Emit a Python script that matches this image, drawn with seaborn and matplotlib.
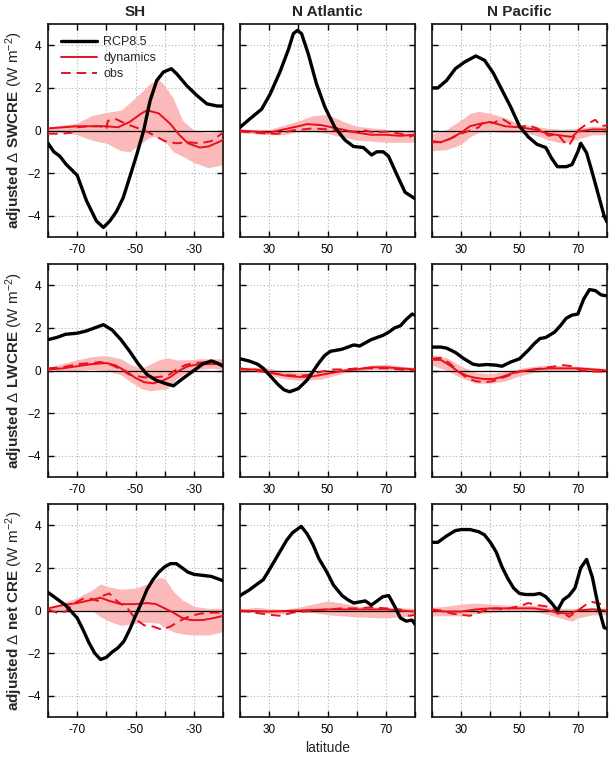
import numpy as np
import pandas as pd
import matplotlib
matplotlib.use("Agg")
import matplotlib.pyplot as plt
import seaborn as sns
from matplotlib.ticker import MultipleLocator, FuncFormatter

# ---------------- data ----------------
regions = ["SH", "N Atlantic", "N Pacific"]
quantities = ["SWCRE", "LWCRE", "net CRE"]
series_labels = ["RCP8.5", "dynamics", "obs"]
xlims = {"SH": (-80, -20), "N Atlantic": (20, 80), "N Pacific": (20, 80)}
xtick_labels = {"SH": [-70, -50, -30], "N Atlantic": [30, 50, 70], "N Pacific": [30, 50, 70]}
yticks = [-4, -2, 0, 2, 4]

# --- SWCRE ---
sh_sw_rcp = [(-80, -0.6), (-78, -1.0), (-76, -1.2), (-73.7, -1.6), (-70, -2.1), (-66.8, -3.3), (-63.4, -4.25),
             (-61, -4.55), (-58.8, -4.25), (-56.5, -3.8), (-54.2, -3.15), (-52, -2.2), (-49.5, -1.1), (-47.2, 0.0),
             (-45, 1.4), (-42.7, 2.35), (-40.4, 2.75), (-37.7, 2.9), (-35.8, 2.65), (-32.4, 2.1), (-29, 1.65),
             (-25.5, 1.25), (-22, 1.15), (-20, 1.15)]
sh_sw_dyn = [(-80, 0.1), (-70, 0.2), (-60, 0.2), (-56, 0.15), (-52, 0.4), (-48, 0.8), (-46, 0.95), (-42, 0.8),
             (-38, 0.3), (-35, -0.2), (-32, -0.6), (-28, -0.8), (-25, -0.75), (-20, -0.45)]
sh_sw_obs = [(-80, -0.15), (-75, -0.15), (-72, -0.1), (-70, 0.15), (-66, 0.2), (-62, 0.2), (-60, 0.05), (-59.5, 0.45),
             (-57, 0.55), (-53, 0.3), (-50, 0.15), (-47, 0.0), (-44, -0.2), (-40, -0.5), (-36, -0.6), (-32, -0.55),
             (-28, -0.6), (-24, -0.5), (-20, -0.1)]
sh_sw_band = [(-80, -0.05, 0.15), (-75, -0.1, 0.25), (-70, -0.2, 0.35), (-65, -0.45, 0.7), (-60, -0.6, 0.85),
              (-55, -0.95, 0.95), (-52, -1.0, 1.3), (-48, -0.6, 1.8), (-45, -0.3, 2.2), (-42, -0.3, 2.4),
              (-40, -0.5, 2.1), (-37, -1.0, 1.5), (-34, -1.2, 0.5), (-30, -1.5, 0.0), (-25, -1.75, -0.1),
              (-20, -1.6, 0.0)]

na_sw_rcp = [(20, 0.15), (23.4, 0.55), (27.4, 1.0), (30.3, 1.7), (33.7, 2.75), (36.6, 3.8), (38.3, 4.55),
             (39.7, 4.7), (41.1, 4.55), (43.4, 3.6), (46.2, 2.2), (49.1, 1.1), (52.5, 0.15), (56, -0.45),
             (58.9, -0.75), (62.3, -0.8), (65.1, -1.15), (66.9, -1.0), (69.1, -1.0), (70.9, -1.2), (73.7, -2.05),
             (76.6, -2.9), (80, -3.2)]
na_sw_dyn = [(20, 0.0), (30, -0.1), (35, 0.05), (40, 0.2), (43, 0.3), (48, 0.25), (55, 0.05), (60, -0.1),
             (65, -0.2), (70, -0.2), (75, -0.25), (80, -0.2)]
na_sw_obs = [(20, -0.05), (25, -0.1), (30, -0.15), (33, -0.15), (38, 0.0), (45, 0.1), (50, 0.05), (55, -0.05),
             (60, -0.05), (63, 0.0), (66, -0.1), (70, -0.05), (75, -0.15), (78, -0.3), (80, -0.2)]
na_sw_band = [(20, -0.1, 0.05), (30, -0.2, 0.05), (35, -0.2, 0.25), (40, -0.05, 0.45), (45, -0.05, 0.7),
              (50, -0.15, 0.75), (55, -0.3, 0.45), (60, -0.45, 0.2), (70, -0.55, 0.05), (80, -0.55, 0.0)]

np_sw_rcp = [(20, 2.0), (22, 2.0), (25, 2.35), (28, 2.9), (31, 3.2), (35, 3.5), (38, 3.3), (41, 2.7), (44, 1.9),
             (47, 1.1), (50, 0.2), (53, -0.3), (56, -0.65), (59, -0.8), (61, -1.3), (63, -1.7), (66, -1.7),
             (68, -1.6), (70, -1.0), (71, -0.6), (73, -1.05), (75, -2.0), (77, -3.0), (79, -4.0), (80, -4.3)]
np_sw_dyn = [(20, -0.55), (23, -0.55), (26, -0.4), (30, -0.1), (33, 0.2), (36, 0.3), (40, 0.4), (45, 0.2),
             (50, 0.15), (55, 0.05), (60, -0.15), (65, -0.25), (68, -0.3), (70, -0.05), (75, 0.05), (80, 0.05)]
np_sw_obs = [(20, -0.5), (23, -0.55), (26, -0.4), (30, -0.15), (33, 0.0), (36, 0.15), (38, 0.45), (41, 0.35),
             (44, 0.55), (47, 0.3), (50, 0.15), (53, 0.25), (56, 0.1), (58, -0.05), (60, -0.25), (63, -0.15),
             (65, -0.5), (67, -0.7), (70, 0.0), (73, 0.3), (76, 0.5), (78, 0.2), (80, 0.25)]
np_sw_band = [(20, -0.95, -0.15), (25, -0.9, 0.05), (30, -0.65, 0.5), (33, -0.3, 0.8), (36, -0.1, 0.9),
              (40, -0.05, 0.8), (45, -0.1, 0.6), (50, -0.1, 0.3), (55, -0.2, 0.2), (60, -0.45, 0.1),
              (65, -0.6, 0.05), (70, -0.4, 0.1), (75, -0.2, 0.2), (80, -0.2, 0.2)]

# --- LWCRE ---
sh_lw_rcp = [(-80, 1.45), (-77, 1.55), (-74, 1.7), (-70, 1.75), (-67, 1.85), (-64, 2.0), (-61, 2.15), (-58, 1.9),
             (-55, 1.45), (-52, 0.9), (-49, 0.3), (-46, -0.2), (-43, -0.45), (-40, -0.6), (-37, -0.72),
             (-34, -0.4), (-30, 0.0), (-27, 0.3), (-24, 0.45), (-22, 0.35), (-20, 0.2)]
sh_lw_dyn = [(-80, 0.05), (-75, 0.1), (-70, 0.2), (-65, 0.3), (-60, 0.35), (-57, 0.25), (-53, -0.05), (-50, -0.35),
             (-47, -0.55), (-44, -0.6), (-41, -0.5), (-38, -0.3), (-35, 0.0), (-32, 0.2), (-28, 0.3), (-24, 0.3),
             (-20, 0.3)]
sh_lw_obs = [(-80, 0.1), (-75, 0.15), (-70, 0.3), (-65, 0.35), (-62, 0.4), (-58, 0.25), (-55, 0.05), (-52, -0.2),
             (-48, -0.3), (-45, -0.35), (-42, -0.3), (-39, -0.25), (-36, 0.05), (-33, 0.25), (-30, 0.35),
             (-25, 0.4), (-22, 0.35), (-20, 0.3)]
sh_lw_band = [(-80, -0.05, 0.15), (-70, 0.0, 0.5), (-65, 0.05, 0.65), (-60, 0.0, 0.7), (-55, -0.2, 0.55),
              (-52, -0.5, 0.3), (-48, -0.85, 0.1), (-45, -0.95, 0.3), (-42, -0.9, 0.5), (-39, -0.85, 0.6),
              (-36, -0.4, 0.5), (-32, -0.05, 0.5), (-28, 0.05, 0.55), (-24, 0.1, 0.55), (-20, 0.05, 0.55)]

na_lw_rcp = [(20, 0.55), (23, 0.45), (26, 0.3), (28, 0.1), (30, -0.2), (33, -0.65), (35, -0.9), (37, -1.0),
             (40, -0.85), (43, -0.45), (45, -0.05), (47, 0.35), (49, 0.7), (51, 0.9), (53, 0.95), (55, 1.0),
             (57, 1.1), (59, 1.2), (61, 1.15), (63, 1.3), (65, 1.45), (67, 1.55), (69, 1.65), (71, 1.8), (73, 2.0),
             (75, 2.1), (77, 2.4), (79, 2.65), (80, 2.6)]
na_lw_dyn = [(20, 0.05), (25, 0.05), (28, 0.0), (32, -0.15), (36, -0.25), (40, -0.3), (44, -0.3), (48, -0.2),
             (52, -0.1), (56, 0.0), (60, 0.05), (65, 0.15), (70, 0.15), (75, 0.1), (80, 0.05)]
na_lw_obs = [(20, 0.1), (25, 0.0), (30, -0.1), (35, -0.2), (40, -0.25), (44, -0.2), (48, -0.05), (52, 0.05),
             (56, 0.05), (60, 0.1), (65, 0.1), (70, 0.1), (75, 0.05), (80, 0.0)]
na_lw_band = [(20, -0.05, 0.15), (28, -0.1, 0.15), (32, -0.3, 0.05), (36, -0.4, -0.05), (40, -0.45, -0.1),
              (44, -0.45, -0.1), (48, -0.4, 0.0), (52, -0.25, 0.05), (56, -0.1, 0.1), (60, -0.05, 0.15),
              (65, 0.05, 0.25), (70, 0.05, 0.3), (75, 0.0, 0.2), (80, -0.05, 0.15)]

np_lw_rcp = [(20, 1.1), (23, 1.1), (25, 1.05), (28, 0.85), (31, 0.55), (34, 0.3), (36, 0.25), (39, 0.28),
             (42, 0.25), (44, 0.2), (47, 0.4), (50, 0.55), (53, 0.95), (55, 1.25), (57, 1.5), (59, 1.55),
             (62, 1.8), (64, 2.1), (66, 2.45), (68, 2.6), (70, 2.65), (72, 3.35), (74, 3.8), (76, 3.75),
             (78, 3.55), (80, 3.5)]
np_lw_dyn = [(20, 0.5), (23, 0.5), (26, 0.25), (29, -0.05), (32, -0.25), (35, -0.35), (38, -0.4), (41, -0.4),
             (44, -0.3), (47, -0.15), (50, -0.05), (55, 0.05), (60, 0.1), (65, 0.1), (70, 0.1), (75, 0.05),
             (80, 0.0)]
np_lw_obs = [(20, 0.55), (23, 0.6), (26, 0.35), (29, -0.05), (32, -0.35), (35, -0.5), (38, -0.55), (41, -0.5),
             (44, -0.35), (47, -0.2), (50, -0.05), (55, 0.05), (60, 0.15), (65, 0.25), (68, 0.2), (71, 0.0),
             (75, -0.05), (80, -0.05)]
np_lw_band = [(20, 0.25, 0.75), (25, 0.0, 0.6), (30, -0.35, 0.2), (35, -0.6, -0.1), (40, -0.6, -0.15),
              (45, -0.5, -0.05), (50, -0.25, 0.1), (55, -0.1, 0.2), (60, 0.0, 0.25), (70, 0.0, 0.2),
              (80, -0.1, 0.1)]

# --- net CRE ---
sh_net_rcp = [(-80, 0.85), (-77, 0.55), (-74, 0.25), (-72, -0.05), (-70, -0.35), (-68, -0.9), (-66, -1.5),
              (-64, -2.0), (-62, -2.3), (-60, -2.2), (-58, -1.95), (-56, -1.75), (-54, -1.45), (-52, -0.9),
              (-50, -0.25), (-48, 0.35), (-46, 1.0), (-44, 1.45), (-42, 1.8), (-40, 2.05), (-38, 2.2), (-36, 2.2),
              (-34, 2.0), (-32, 1.8), (-30, 1.7), (-27, 1.65), (-24, 1.6), (-22, 1.5), (-20, 1.4)]
sh_net_dyn = [(-80, 0.1), (-75, 0.25), (-70, 0.35), (-65, 0.5), (-62, 0.6), (-59, 0.45), (-55, 0.3), (-50, 0.3),
              (-46, 0.35), (-43, 0.3), (-40, 0.1), (-37, -0.1), (-34, -0.35), (-31, -0.45), (-27, -0.45),
              (-23, -0.35), (-20, -0.25)]
sh_net_obs = [(-80, 0.05), (-77, -0.1), (-74, -0.05), (-71, 0.35), (-68, 0.55), (-65, 0.55), (-63, 0.45),
              (-61, 0.7), (-59, 0.8), (-56, 0.4), (-53, 0.15), (-50, -0.4), (-47, -0.7), (-44, -0.75), (-41, -0.9),
              (-38, -0.75), (-35, -0.5), (-32, -0.3), (-28, -0.15), (-24, -0.1), (-20, -0.1)]
sh_net_band = [(-80, -0.05, 0.15), (-75, -0.1, 0.35), (-70, -0.05, 0.6), (-65, 0.0, 0.95), (-62, -0.3, 1.25),
               (-59, -0.5, 1.1), (-55, -0.7, 1.0), (-50, -0.6, 1.05), (-46, -0.55, 1.25), (-42, -0.6, 1.55),
               (-40, -0.8, 1.5), (-37, -1.0, 0.9), (-34, -1.1, 0.5), (-30, -1.15, 0.2), (-25, -1.15, 0.1),
               (-20, -1.0, 0.1)]

na_net_rcp = [(20, 0.7), (23, 0.95), (26, 1.25), (28, 1.45), (30, 1.9), (33, 2.6), (36, 3.3), (38, 3.65),
              (41, 3.95), (43, 3.6), (45, 3.1), (47, 2.45), (50, 1.75), (52, 1.2), (55, 0.7), (57, 0.5), (59, 0.35),
              (61, 0.4), (63, 0.45), (65, 0.25), (67, 0.45), (69, 0.65), (71, 0.7), (73, 0.2), (75, -0.35),
              (77, -0.5), (79, -0.45), (80, -0.65)]
na_net_dyn = [(20, 0.0), (30, -0.05), (40, 0.0), (50, 0.05), (60, 0.05), (70, 0.05), (80, -0.05)]
na_net_obs = [(20, 0.0), (25, -0.1), (30, -0.2), (34, -0.25), (38, -0.1), (42, -0.05), (46, 0.0), (50, 0.05),
              (55, 0.1), (60, 0.1), (65, 0.15), (70, 0.1), (75, 0.05), (78, -0.25), (80, -0.2)]
na_net_band = [(20, -0.05, 0.05), (25, -0.1, 0.15), (30, -0.15, 0.1), (35, -0.15, 0.05), (40, -0.05, 0.15),
               (45, -0.1, 0.3), (50, -0.2, 0.45), (55, -0.25, 0.35), (60, -0.3, 0.2), (70, -0.35, 0.15),
               (80, -0.25, 0.1)]

np_net_rcp = [(20, 3.2), (22, 3.2), (25, 3.5), (28, 3.75), (30, 3.8), (33, 3.8), (36, 3.7), (38, 3.55), (40, 3.2),
              (42, 2.75), (44, 2.05), (46, 1.5), (48, 1.05), (50, 0.8), (52, 0.75), (55, 0.75), (57, 0.8),
              (59, 0.65), (61, 0.35), (63, 0.0), (65, 0.5), (67, 0.7), (69, 1.05), (71, 2.0), (73, 2.4), (75, 1.55),
              (77, 0.2), (79, -0.8), (80, -0.85)]
np_net_dyn = [(20, 0.0), (25, -0.05), (30, -0.05), (35, 0.05), (40, 0.1), (45, 0.1), (50, 0.1), (55, 0.1),
              (60, 0.0), (63, -0.1), (67, -0.15), (70, 0.0), (75, 0.05), (80, 0.0)]
np_net_obs = [(20, 0.05), (23, 0.0), (27, -0.15), (30, -0.2), (33, -0.25), (36, -0.1), (39, 0.05), (42, 0.1),
              (45, 0.05), (48, 0.15), (50, 0.2), (53, 0.35), (56, 0.25), (59, 0.2), (61, 0.1), (63, -0.15),
              (65, -0.1), (67, -0.3), (70, 0.0), (73, 0.3), (75, 0.4), (78, 0.3), (80, 0.15)]
np_net_band = [(20, -0.25, 0.15), (25, -0.25, 0.2), (30, -0.25, 0.3), (35, -0.15, 0.35), (40, -0.1, 0.3),
               (45, -0.05, 0.25), (50, -0.05, 0.25), (55, -0.05, 0.25), (60, -0.2, 0.15), (65, -0.4, 0.1),
               (68, -0.5, 0.1), (70, -0.35, 0.1), (75, -0.2, 0.15), (80, -0.2, 0.1)]

panels = {
    ("SWCRE", "SH"): (sh_sw_rcp, sh_sw_dyn, sh_sw_obs, sh_sw_band),
    ("SWCRE", "N Atlantic"): (na_sw_rcp, na_sw_dyn, na_sw_obs, na_sw_band),
    ("SWCRE", "N Pacific"): (np_sw_rcp, np_sw_dyn, np_sw_obs, np_sw_band),
    ("LWCRE", "SH"): (sh_lw_rcp, sh_lw_dyn, sh_lw_obs, sh_lw_band),
    ("LWCRE", "N Atlantic"): (na_lw_rcp, na_lw_dyn, na_lw_obs, na_lw_band),
    ("LWCRE", "N Pacific"): (np_lw_rcp, np_lw_dyn, np_lw_obs, np_lw_band),
    ("net CRE", "SH"): (sh_net_rcp, sh_net_dyn, sh_net_obs, sh_net_band),
    ("net CRE", "N Atlantic"): (na_net_rcp, na_net_dyn, na_net_obs, na_net_band),
    ("net CRE", "N Pacific"): (np_net_rcp, np_net_dyn, np_net_obs, np_net_band),
}

# ---------------- style ----------------
sns.set_theme(style="ticks")
plt.rcParams["font.family"] = ["Liberation Sans", "DejaVu Sans"]
plt.rcParams["mathtext.fontset"] = "custom"
plt.rcParams["mathtext.rm"] = "Liberation Sans"
plt.rcParams["mathtext.bf"] = "Liberation Sans:bold"
plt.rcParams["mathtext.it"] = "Liberation Sans:italic"

RED = "#e8101a"
BAND = "#fbb9b9"

fig = plt.figure(figsize=(6.09, 7.59), dpi=100)
lefts = [48 / 609, 240 / 609, 432 / 609]
width = 175 / 609
bottoms = [1 - 237 / 759, 1 - 477 / 759, 1 - 717 / 759]
height = 213 / 759

for r, q in enumerate(quantities):
    for c, reg in enumerate(regions):
        ax = fig.add_axes([lefts[c], bottoms[r], width, height])
        rcp, dyn, obs, band = panels[(q, reg)]
        b = np.array(band)
        ax.fill_between(b[:, 0], b[:, 1], b[:, 2], color=BAND, lw=0, zorder=1)
        ax.axhline(0, color="black", lw=0.9, zorder=2)
        d_rcp = pd.DataFrame(rcp, columns=["lat", "val"])
        d_dyn = pd.DataFrame(dyn, columns=["lat", "val"])
        d_obs = pd.DataFrame(obs, columns=["lat", "val"])
        sns.lineplot(data=d_rcp, x="lat", y="val", ax=ax, color="black", lw=2.4, sort=False,
                     label=series_labels[0], zorder=4)
        sns.lineplot(data=d_dyn, x="lat", y="val", ax=ax, color=RED, lw=1.4, sort=False,
                     label=series_labels[1], zorder=3)
        sns.lineplot(data=d_obs, x="lat", y="val", ax=ax, color=RED, lw=1.4, sort=False,
                     linestyle=(0, (5, 3)), label=series_labels[2], zorder=3)
        ax.set_xlim(*xlims[reg])
        ax.set_ylim(-5, 5)
        ax.xaxis.set_major_locator(MultipleLocator(10))
        labs = xtick_labels[reg]
        ax.xaxis.set_major_formatter(FuncFormatter(lambda v, p, labs=labs: f"{int(round(v))}" if int(round(v)) in labs else ""))
        ax.set_yticks(yticks)
        ax.grid(True, linestyle=(0, (1, 2)), color="#b0b0b0", lw=0.8)
        ax.tick_params(direction="in", top=True, right=True, length=4, width=1, labelsize=8.5, pad=5,
                       colors="black")
        for s in ax.spines.values():
            s.set_linewidth(1.2)
            s.set_color("#111111")
        ax.set_xlabel("")
        if c == 0:
            ax.set_ylabel(r"$\mathbf{adjusted}\ \Delta\ \mathbf{" + q.replace(" ", r"\ ") + r"}$ (W m$^{-2}$)",
                          fontsize=11, labelpad=2)
        else:
            ax.set_ylabel("")
            ax.set_yticklabels([])
        if r == 0:
            ax.set_title(reg, fontsize=11, fontweight="bold", pad=6)
        if r == 0 and c == 0:
            leg = ax.legend(loc="upper left", bbox_to_anchor=(0.045, 0.965), frameon=False, fontsize=9,
                            handlelength=2.9, borderaxespad=0.0, labelspacing=0.3, handletextpad=0.5)
        else:
            lg = ax.get_legend()
            if lg is not None:
                lg.remove()
        if r == 2 and c == 1:
            ax.set_xlabel("latitude", fontsize=10, labelpad=4)

fig.savefig("out.png", dpi=100)
